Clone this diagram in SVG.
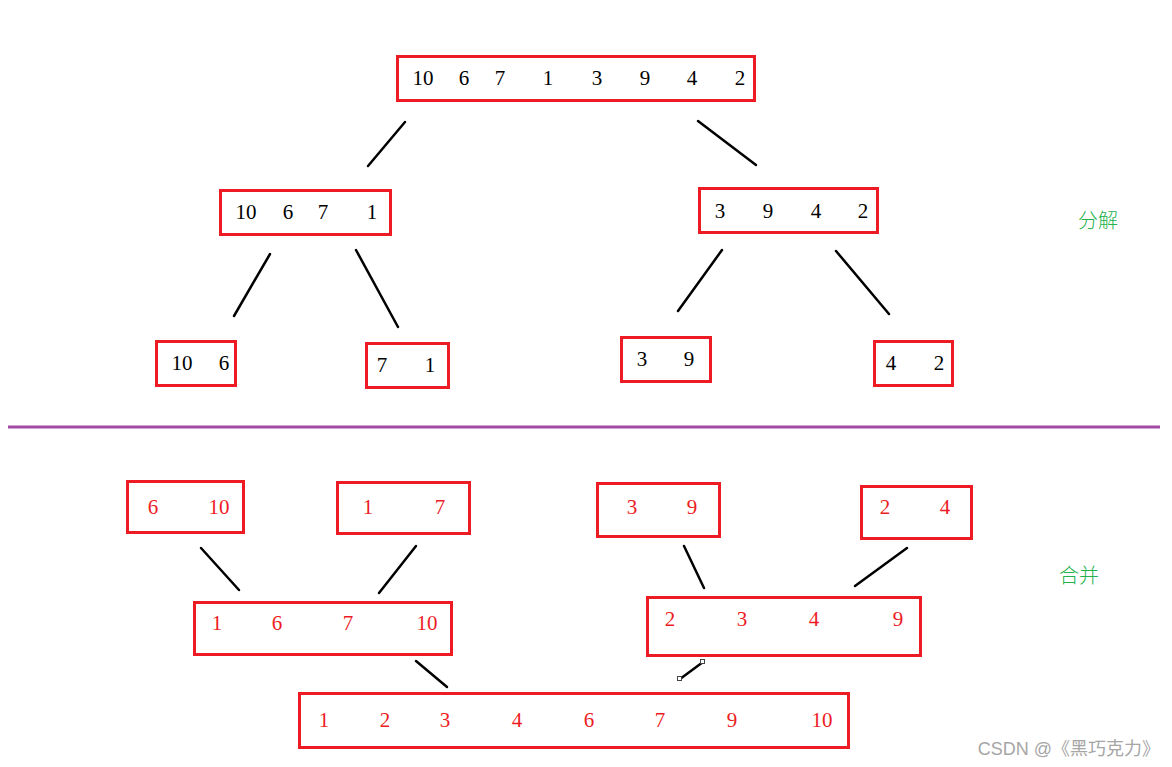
<svg xmlns="http://www.w3.org/2000/svg" width="1172" height="767" viewBox="0 0 1172 767">
<style>
.box{fill:none;stroke:#ED1C24;stroke-width:3}
.n{font-family:"Liberation Serif","Times New Roman",serif;font-size:21px;text-anchor:middle;fill:#000}
.r{fill:#ED1C24}
.ln{stroke:#000;stroke-width:2.5;stroke-linecap:round}
.lbl{font-family:"Noto Sans CJK SC",sans-serif;font-size:20px;font-weight:300;fill:#22B14C;text-anchor:middle}
.h{fill:#fff;stroke:#444;stroke-width:1}
</style>
<rect width="1172" height="767" fill="#fff"/>
<g id="connectors">
<line class="ln" x1="405" y1="122" x2="368" y2="166"/>
<line class="ln" x1="698" y1="121" x2="756" y2="165"/>
<line class="ln" x1="270" y1="254" x2="234" y2="316"/>
<line class="ln" x1="356" y1="250" x2="398" y2="327"/>
<line class="ln" x1="722" y1="250" x2="678" y2="311"/>
<line class="ln" x1="836" y1="251" x2="889" y2="314"/>
<line class="ln" x1="201" y1="548" x2="239" y2="590"/>
<line class="ln" x1="416" y1="546" x2="379" y2="593"/>
<line class="ln" x1="684" y1="546" x2="704" y2="588"/>
<line class="ln" x1="907" y1="548" x2="855" y2="586"/>
<line class="ln" x1="416" y1="661" x2="447" y2="687"/>
<line class="ln" x1="680" y1="679" x2="703" y2="662"/>
<rect class="h" x="677.5" y="676.5" width="4" height="4"/>
<rect class="h" x="700.5" y="659.5" width="4" height="4"/>
</g>
<line x1="8" y1="427" x2="1160" y2="427" stroke="#A349A4" stroke-width="3"/>
<g id="top">
<rect class="box" x="397.5" y="56.5" width="357" height="44"/>
<text class="n" y="85"><tspan x="423">10</tspan><tspan x="464">6</tspan><tspan x="500">7</tspan><tspan x="548">1</tspan><tspan x="597">3</tspan><tspan x="645">9</tspan><tspan x="692">4</tspan><tspan x="740">2</tspan></text>
</g>
<g id="d1">
<rect class="box" x="220.5" y="190.5" width="170" height="44"/>
<text class="n" y="219"><tspan x="246">10</tspan><tspan x="288">6</tspan><tspan x="323">7</tspan><tspan x="372">1</tspan></text>
</g>
<g id="d2">
<rect class="box" x="699.5" y="188.5" width="178" height="44"/>
<text class="n" y="218"><tspan x="720">3</tspan><tspan x="768">9</tspan><tspan x="816">4</tspan><tspan x="863">2</tspan></text>
</g>
<g id="d3">
<rect class="box" x="156.5" y="341.5" width="79" height="44"/>
<text class="n" y="370"><tspan x="182">10</tspan><tspan x="224">6</tspan></text>
</g>
<g id="d4">
<rect class="box" x="366.5" y="343.5" width="82" height="44"/>
<text class="n" y="372"><tspan x="382">7</tspan><tspan x="430">1</tspan></text>
</g>
<g id="d5">
<rect class="box" x="621.5" y="337.5" width="89" height="44"/>
<text class="n" y="366"><tspan x="642">3</tspan><tspan x="689">9</tspan></text>
</g>
<g id="d6">
<rect class="box" x="874.5" y="341.5" width="78" height="44"/>
<text class="n" y="370"><tspan x="891">4</tspan><tspan x="939">2</tspan></text>
</g>
<text class="lbl" x="1098" y="228">分解</text>
<text class="lbl" x="1079" y="583">合并</text>
<g id="m1">
<rect class="box" x="127.5" y="481.5" width="116" height="51"/>
<text class="n r" y="514"><tspan x="153">6</tspan><tspan x="219">10</tspan></text>
</g>
<g id="m2">
<rect class="box" x="337.5" y="482.5" width="132" height="51"/>
<text class="n r" y="514"><tspan x="368">1</tspan><tspan x="440">7</tspan></text>
</g>
<g id="m3">
<rect class="box" x="597.5" y="483.5" width="122" height="53"/>
<text class="n r" y="514"><tspan x="632">3</tspan><tspan x="692">9</tspan></text>
</g>
<g id="m4">
<rect class="box" x="861.5" y="486.5" width="110" height="52"/>
<text class="n r" y="514"><tspan x="885">2</tspan><tspan x="945">4</tspan></text>
</g>
<g id="m5">
<rect class="box" x="194.5" y="602.5" width="257" height="52"/>
<text class="n r" y="630"><tspan x="217">1</tspan><tspan x="277">6</tspan><tspan x="348">7</tspan><tspan x="427">10</tspan></text>
</g>
<g id="m6">
<rect class="box" x="647.5" y="597.5" width="273" height="58"/>
<text class="n r" y="626"><tspan x="670">2</tspan><tspan x="742">3</tspan><tspan x="814">4</tspan><tspan x="898">9</tspan></text>
</g>
<g id="m7">
<rect class="box" x="299.5" y="693.5" width="549" height="54"/>
<text class="n r" y="727"><tspan x="324">1</tspan><tspan x="385">2</tspan><tspan x="445">3</tspan><tspan x="517">4</tspan><tspan x="589">6</tspan><tspan x="660">7</tspan><tspan x="732">9</tspan><tspan x="822">10</tspan></text>
</g>
<text x="1160" y="755" text-anchor="end" font-family="'Liberation Sans','Noto Sans CJK SC',sans-serif" font-size="18" fill="#a6a6a6">CSDN @《黑巧克力》</text>
</svg>
